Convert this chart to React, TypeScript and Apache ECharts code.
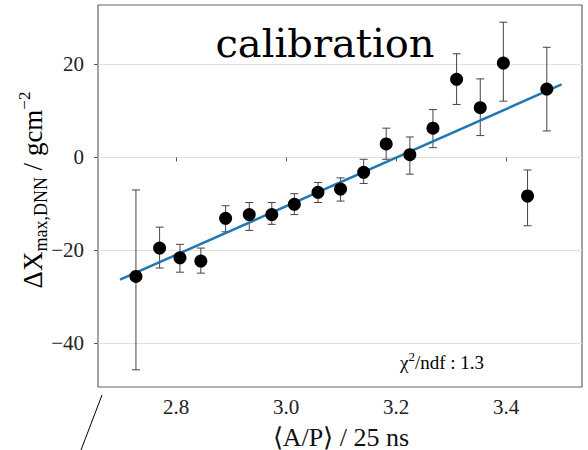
import React, { useEffect, useRef } from "react";
import * as echarts from "echarts";

const xVals = [2.727, 2.770, 2.807, 2.845, 2.890, 2.933, 2.974, 3.015, 3.058, 3.099, 3.141, 3.182, 3.225, 3.267, 3.310, 3.353, 3.395, 3.439, 3.474];
const yVals = [-25.6, -19.5, -21.6, -22.3, -13.1, -12.3, -12.3, -10.1, -7.5, -6.8, -3.2, 2.9, 0.6, 6.3, 16.8, 10.7, 20.3, -8.3, 14.7];
const yLow = [-45.7, -23.8, -24.7, -24.9, -16.0, -15.7, -14.4, -12.3, -9.7, -9.4, -5.6, -0.4, -3.6, 2.1, 11.4, 4.7, 12.1, -14.7, 5.7];
const yHigh = [-7.0, -15.0, -18.7, -19.5, -10.4, -9.7, -9.7, -7.8, -5.4, -4.4, -0.4, 6.3, 4.4, 10.3, 22.3, 16.9, 29.1, -2.7, 23.7];
const fitX = [2.698, 3.501];
const fitY = [-26.3, 15.7];
const xTicks = [2.8, 3.0, 3.2, 3.4];
const yTicks = [-40, -20, 0, 20];
const xRange = [2.658, 3.538];
const yRange = [-49.4, 32.8];
const titleText = "calibration";
const chiValue = "1.3";

export default function App() {
  const ref = useRef<HTMLDivElement>(null);
  useEffect(() => {
    const chart = echarts.init(ref.current!, null, { renderer: "svg" });
    const serif = "Liberation Serif";
    const points = xVals.map((x, i) => [x, yVals[i]]);
    const bars = xVals.map((x, i) => [x, yLow[i], yHigh[i]]);
    const fit = fitX.map((x, i) => [x, fitY[i]]);
    chart.setOption({
      animation: false,
      backgroundColor: "#fff",
      textStyle: { fontFamily: serif },
      grid: {
        left: 98,
        top: 5,
        right: 6,
        bottom: 63,
        show: true,
        borderColor: "#666",
        borderWidth: 1.2,
        backgroundColor: "transparent",
      },
      xAxis: {
        type: "value",
        min: xRange[0],
        max: xRange[1],
        axisLine: { show: false },
        splitLine: { show: false },
        axisTick: { show: true, customValues: xTicks, length: 4, lineStyle: { color: "#555" } },
        axisLabel: {
          customValues: xTicks,
          margin: 9,
          fontFamily: serif,
          fontSize: 21,
          color: "#222",
          formatter: (v: number) => v.toFixed(1),
        },
      },
      yAxis: {
        type: "value",
        min: yRange[0],
        max: yRange[1],
        axisLine: { show: false },
        splitLine: { show: true, lineStyle: { color: "#e0e0e0", width: 1 } },
        axisTick: { show: true, customValues: yTicks, length: 4, lineStyle: { color: "#555" } },
        axisLabel: {
          customValues: yTicks,
          margin: 14,
          fontFamily: serif,
          fontSize: 21,
          color: "#222",
          formatter: (v: number) => (v < 0 ? "\u2212" + Math.abs(v) : String(v)),
        },
      },
      series: [
        {
          type: "custom",
          data: bars,
          encode: { x: 0, y: [1, 2] },
          z: 2,
          renderItem: (params: any, api: any) => {
            const x = api.value(0);
            const lo = api.value(1);
            const hi = api.value(2);
            const p1 = api.coord([x, hi]);
            const p2 = api.coord([x, lo]);
            const w = 4;
            const st = { stroke: "#444", lineWidth: 1 };
            return {
              type: "group",
              children: [
                { type: "line", shape: { x1: p1[0], y1: p1[1], x2: p2[0], y2: p2[1] }, style: st },
                { type: "line", shape: { x1: p1[0] - w, y1: p1[1], x2: p1[0] + w, y2: p1[1] }, style: st },
                { type: "line", shape: { x1: p2[0] - w, y1: p2[1], x2: p2[0] + w, y2: p2[1] }, style: st },
              ],
            };
          },
        },
        {
          type: "line",
          data: fit,
          showSymbol: false,
          z: 3,
          lineStyle: { color: "#1f77b4", width: 2.5 },
          itemStyle: { color: "#1f77b4" },
        },
        {
          type: "scatter",
          data: points,
          symbolSize: 13,
          z: 4,
          itemStyle: { color: "#000", opacity: 1 },
        },
      ],
      graphic: [
        {
          type: "text",
          x: 325,
          y: 43,
          style: {
            text: titleText,
            font: '40px "DejaVu Serif"',
            fill: "#000",
            align: "center",
            verticalAlign: "middle",
          },
        },
        {
          type: "text",
          x: 33,
          y: 190,
          rotation: Math.PI / 2,
          style: {
            text: "{m|\u0394X}{s|max,DNN}{m| / gcm}{p|\u22122}",
            align: "center",
            verticalAlign: "middle",
            rich: {
              m: { fontFamily: serif, fontSize: 27, lineHeight: 34, color: "#111" },
              s: { fontFamily: serif, fontSize: 18, lineHeight: 18, verticalAlign: "bottom", color: "#111" },
              p: { fontFamily: serif, fontSize: 17, lineHeight: 17, verticalAlign: "top", color: "#111" },
            },
          },
        },
        {
          type: "text",
          x: 341,
          y: 437,
          style: {
            text: "\u27E8A/P\u27E9 / 25 ns",
            fontFamily: serif,
            fontSize: 26,
            fill: "#111",
            align: "center",
            verticalAlign: "middle",
          },
        },
        {
          type: "text",
          x: 442,
          y: 362,
          style: {
            text: "{m|\u03C7}{p|2}{m|/ndf : " + chiValue + "}",
            align: "center",
            verticalAlign: "middle",
            rich: {
              m: { fontFamily: serif, fontSize: 19, lineHeight: 24, color: "#222" },
              p: { fontFamily: serif, fontSize: 13, lineHeight: 13, verticalAlign: "top", color: "#222" },
            },
          },
        },
        {
          type: "line",
          shape: { x1: 102, y1: 395, x2: 81, y2: 450 },
          style: { stroke: "#000", lineWidth: 1 },
        },
      ],
    });
    return () => chart.dispose();
  }, []);
  return <div ref={ref} style={{ position: "absolute", left: 0, top: 0, width: 588, height: 450 }} />;
}
